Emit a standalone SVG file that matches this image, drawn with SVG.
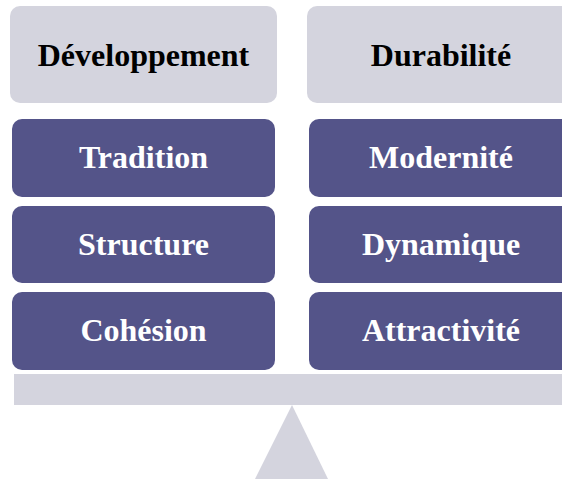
<svg xmlns="http://www.w3.org/2000/svg" width="562" height="479" viewBox="0 0 562 479">
<style>
.hd{fill:#D4D4DE}
.pu{fill:#545489}
.t{font-family:"Liberation Serif","Times New Roman",serif;font-weight:bold;font-size:32px;text-anchor:middle}
.tk{fill:#000}
.tw{fill:#fff}
</style>
<rect width="562" height="479" fill="#fff"/>
<g id="developpement"><rect class="hd" x="10" y="6" width="267" height="97" rx="10"/><text class="t tk" x="143.5" y="66">Développement</text></g>
<g id="durabilite"><rect class="hd" x="307" y="6" width="267" height="97" rx="10"/><text class="t tk" x="441" y="66">Durabilité</text></g>
<g id="tradition"><rect class="pu" x="12" y="119" width="263" height="78" rx="10"/><text class="t tw" x="143.5" y="168">Tradition</text></g>
<g id="modernite"><rect class="pu" x="309" y="119" width="263" height="78" rx="10"/><text class="t tw" x="441" y="168">Modernité</text></g>
<g id="structure"><rect class="pu" x="12" y="206" width="263" height="77" rx="10"/><text class="t tw" x="143.5" y="255">Structure</text></g>
<g id="dynamique"><rect class="pu" x="309" y="206" width="263" height="77" rx="10"/><text class="t tw" x="441" y="255">Dynamique</text></g>
<g id="cohesion"><rect class="pu" x="12" y="292" width="263" height="78" rx="10"/><text class="t tw" x="143.5" y="341">Cohésion</text></g>
<g id="attractivite"><rect class="pu" x="309" y="292" width="263" height="78" rx="10"/><text class="t tw" x="441" y="341">Attractivité</text></g>
<g id="balance"><rect class="hd" x="14" y="374" width="560" height="31"/><polygon class="hd" points="292,405 255,479 328,479"/></g>
<g id="connectors"></g>
</svg>
